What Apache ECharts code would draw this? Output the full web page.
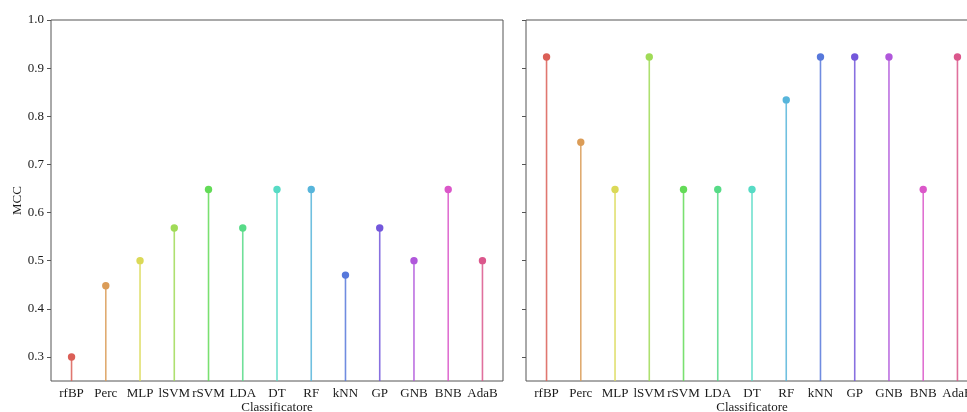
<!DOCTYPE html>
<html>
<head>
<meta charset="utf-8">
<script src="https://cdn.jsdelivr.net/npm/echarts@6/dist/echarts.min.js"></script>
<style>
  html, body { margin: 0; padding: 0; background: #fff; }
  #chart { width: 967px; height: 412px; }
</style>
</head>
<body>
<div id="chart"></div>
<script>
// Classifiers on the x axis (same order in both panels)
const categories = ['rfBP', 'Perc', 'MLP', 'lSVM', 'rSVM', 'LDA', 'DT', 'RF', 'kNN', 'GP', 'GNB', 'BNB', 'AdaB'];

// MCC per classifier, left and right panel
const mccLeft  = [0.300, 0.448, 0.500, 0.568, 0.648, 0.568, 0.648, 0.648, 0.470, 0.568, 0.500, 0.648, 0.500];
const mccRight = [0.923, 0.746, 0.648, 0.923, 0.648, 0.648, 0.648, 0.834, 0.923, 0.923, 0.923, 0.648, 0.923];

// y tick labels
const yTicks = [0.3, 0.4, 0.5, 0.6, 0.7, 0.8, 0.9, 1.0];

// one hue per classifier (hls wheel, l=0.6, s=0.65)
const palette = ['#db5f57', '#db9c57', '#dbd957', '#a0db57', '#63db57', '#57db87', '#57dbc5',
                 '#57b5db', '#5778db', '#7357db', '#b057db', '#db57c9', '#db578c'];

const Y_MIN = 0.25, Y_MAX = 1.0;
const FONT = '"Liberation Serif", "DejaVu Serif", serif';
const SPINE = '#555555';
const TEXT = '#1a1a1a';
const idx = categories.map((_, i) => i);

// panel geometry
const PANEL_W = 452, PANEL_H = 361, PANEL_TOP = 20;
const PANEL_LEFTS = [51, 526];

function xAxisFor(gridIndex) {
  return {
    type: 'value', gridIndex: gridIndex, min: -0.6, max: 12.6,
    axisLine: { show: false, onZero: false },
    axisTick: { show: false },
    splitLine: { show: false },
    axisLabel: {
      customValues: idx, margin: 6,
      fontFamily: FONT, fontSize: 13, color: TEXT,
      formatter: v => categories[Math.round(v)]
    }
  };
}

function yAxisFor(gridIndex, showLabels) {
  const ax = {
    type: 'value', gridIndex: gridIndex, min: Y_MIN, max: Y_MAX,
    axisLine: { show: false, onZero: false },
    splitLine: { show: false },
    axisTick: { show: true, customValues: yTicks, length: 4, lineStyle: { color: SPINE, width: 1 } },
    axisLabel: {
      show: showLabels, customValues: yTicks, margin: 7,
      fontFamily: FONT, fontSize: 13, color: TEXT,
      formatter: v => v.toFixed(1)
    }
  };
  if (showLabels) {
    ax.name = 'MCC';
    ax.nameLocation = 'middle';
    ax.nameGap = 26;
    ax.nameTextStyle = { fontFamily: FONT, fontSize: 13, color: TEXT };
  }
  return ax;
}

// x-axis title under each panel
function xTitle(left) {
  return {
    type: 'text',
    x: left + PANEL_W / 2, y: PANEL_TOP + PANEL_H + 27,
    style: {
      text: 'Classificatore', align: 'center', verticalAlign: 'middle',
      font: '13px ' + FONT, fill: TEXT
    }
  };
}

// stem plot: a thin line from the axis floor up to the value, topped by a dot
function stemSeries(values, axisIndex) {
  return {
    type: 'custom',
    xAxisIndex: axisIndex, yAxisIndex: axisIndex,
    clip: true,
    data: values.map((v, i) => [i, v]),
    renderItem: function (params, api) {
      const i = api.value(0), v = api.value(1);
      const top = api.coord([i, v]);
      const base = api.coord([i, Y_MIN]);
      const color = palette[params.dataIndex];
      return {
        type: 'group',
        children: [
          {
            type: 'line',
            shape: { x1: base[0], y1: base[1], x2: top[0], y2: top[1] },
            style: { stroke: color, lineWidth: 1.6, opacity: 0.85 }
          },
          {
            type: 'circle',
            shape: { cx: top[0], cy: top[1], r: 3.7 },
            style: { fill: color }
          }
        ]
      };
    }
  };
}

const chart = echarts.init(document.getElementById('chart'), null, { renderer: 'canvas' });
chart.setOption({
  animation: false,
  backgroundColor: '#ffffff',
  // the right panel runs past the right edge of the canvas
  grid: PANEL_LEFTS.map(left => ({
    left: left, top: PANEL_TOP, width: PANEL_W, height: PANEL_H, outerBoundsMode: 'none',
    show: true, borderColor: SPINE, borderWidth: 1, backgroundColor: 'transparent'
  })),
  xAxis: [xAxisFor(0), xAxisFor(1)],
  yAxis: [yAxisFor(0, true), yAxisFor(1, false)],
  graphic: PANEL_LEFTS.map(xTitle),
  series: [stemSeries(mccLeft, 0), stemSeries(mccRight, 1)]
});
</script>
</body>
</html>
